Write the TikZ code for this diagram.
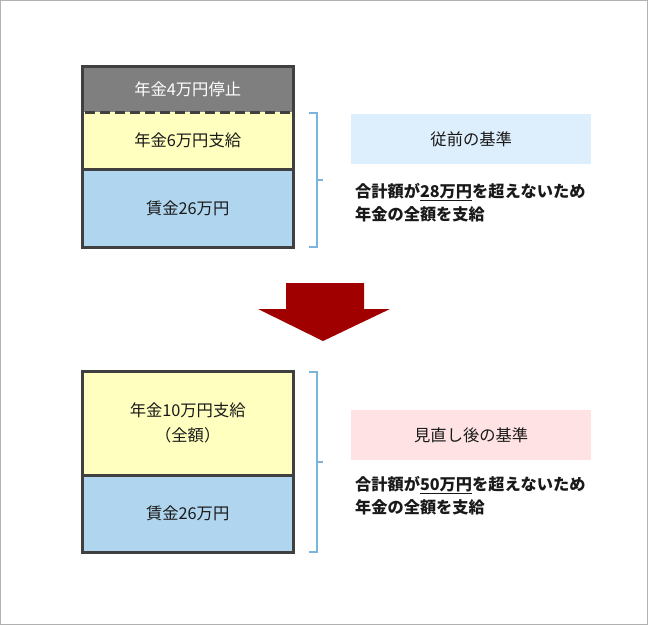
\documentclass[tikz,border=0pt]{standalone}
\usepackage{fontspec}
\setmainfont{Noto Sans CJK JP}
\begin{document}
\begin{tikzpicture}[x=1pt,y=-1pt,
  every node/.style={font=\fontsize{16.3}{20}\selectfont, inner sep=0pt, text=black!90},
  seg/.style={draw=none, minimum width=211pt, anchor=north west},
  frameline/.style={draw=black!75, line width=3pt},
  brk/.style={draw=bracketblue, line width=2pt},
  hdr/.style={minimum width=240pt, minimum height=50pt, anchor=north west},
  note/.style={anchor=north west, align=left, font=\fontsize{16.2}{23}\selectfont\bfseries}
]
\definecolor{bracketblue}{HTML}{7DB4DC}
\definecolor{segyellow}{HTML}{FFFFC0}
\definecolor{segblue}{HTML}{B0D5EE}
\definecolor{seggray}{HTML}{7F7F7F}
\definecolor{hdrblue}{HTML}{DDEEFC}
\definecolor{hdrpink}{HTML}{FFE3E4}
\definecolor{arrowred}{HTML}{A00000}
\useasboundingbox (0,0) rectangle (648,625);
\draw[draw=black!30, line width=1.2pt] (0.6,0.6) rectangle (647.4,624.4);

% ---- top stack
\node[seg, fill=seggray, minimum height=46pt, text=white] (g1) at (82,66) {年金4万円停止};
\node[seg, fill=segyellow, minimum height=57pt] (y1) at (82,112) {年金6万円支給};
\node[seg, fill=segblue, minimum height=78pt] (b1) at (82,169) {賃金26万円};
\draw[frameline] (g1.north west) rectangle (b1.south east);
\draw[frameline, dash pattern=on 10pt off 5pt, dash phase=-3pt] (y1.north west) -- (y1.north east);
\draw[frameline] (b1.north west) -- (b1.north east);

% bracket 1
\coordinate (k1a) at (309,113);
\coordinate (k1b) at (309,247);
\draw[brk] (k1a) -- (317,113) -- (317,247) -- (k1b);
\draw[brk] (317,180) -- (323,180);

\node[hdr, fill=hdrblue] (h1) at (351,114) {従前の基準};
\node[note] (n1) at (355,183) {合計額が\underline{28万円}を超えないため\\年金の全額を支給};

% ---- arrow
\fill[arrowred] (286,283) -- (364,283) -- (364,309) -- (390,309) -- (323,341) -- (258,309) -- (286,309) -- cycle;

% ---- bottom stack
\node[seg, fill=segyellow, minimum height=104pt, align=center, font=\fontsize{16.3}{25}\selectfont] (y2) at (82,371) {年金10万円支給\\（全額）};
\node[seg, fill=segblue, minimum height=77pt] (b2) at (82,475) {賃金26万円};
\draw[frameline] (y2.north west) rectangle (b2.south east);
\draw[frameline] (b2.north west) -- (b2.north east);

% bracket 2
\coordinate (k2a) at (309,372);
\coordinate (k2b) at (309,552);
\draw[brk] (k2a) -- (317,372) -- (317,552) -- (k2b);
\draw[brk] (317,462) -- (323,462);

\node[hdr, fill=hdrpink] (h2) at (351,410) {見直し後の基準};
\node[note] (n2) at (355,476) {合計額が\underline{50万円}を超えないため\\年金の全額を支給};
\end{tikzpicture}
\end{document}
